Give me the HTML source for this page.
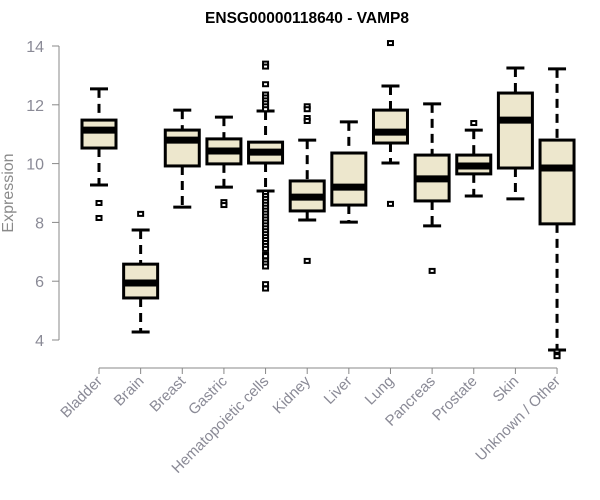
<!DOCTYPE html>
<html><head><meta charset="utf-8">
<style>
html,body{margin:0;padding:0;background:#fff;}
svg{display:block;font-family:"Liberation Sans",sans-serif;}
</style></head>
<body>
<svg id="chart" width="600" height="500">
<text x="307" y="23" text-anchor="middle" font-weight="bold" font-size="15.5">ENSG00000118640 - VAMP8</text>
<text transform="translate(13,193) rotate(-90)" text-anchor="middle" font-size="16" fill="#8a8a8a">Expression</text>
<g id="yaxis"></g>
<g id="xaxis"></g>
<g id="boxes"></g>
</svg>
<script>
const categories=["Bladder","Brain","Breast","Gastric","Hematopoietic cells","Kidney","Liver","Lung","Pancreas","Prostate","Skin","Unknown / Other"];
const whiskerLow=[9.27,4.27,8.52,9.2,9.07,8.08,8.01,10.02,7.88,8.9,8.8,3.66];
const q1=[10.53,5.43,9.92,9.99,10.02,8.39,8.59,10.7,8.73,9.65,9.85,7.95];
const medians=[11.14,5.94,10.8,10.43,10.39,8.86,9.2,11.07,9.48,9.92,11.48,9.85];
const q3=[11.48,6.58,11.14,10.84,10.73,9.41,10.36,11.82,10.29,10.29,12.4,10.8];
const whiskerHigh=[12.54,7.74,11.82,11.58,11.79,10.8,11.42,12.64,12.03,11.14,13.25,13.22];
const outliers=[[8.66,8.15],[8.29],[],[8.69,8.59],
 [13.4,13.3,12.7,12.35,12.25,12.15,12.05,11.95,11.85,9.0,8.9,8.8,8.7,8.6,8.5,8.4,8.3,8.2,8.1,8.0,7.9,7.8,7.7,7.6,7.5,7.4,7.3,7.2,7.1,6.9,6.85,6.7,6.6,6.5,5.9,5.75],
 [11.95,11.85,11.55,11.45,6.69],[],[14.1,8.63],[6.35],[11.38],[],[3.6,3.5,3.45]];
const yTicks=[4,6,8,10,12,14];
const NS="http://www.w3.org/2000/svg";
function y(v){return 340-(v-4)*29.4;}
function x(i){return 99+i*41.64;}
function mk(tag,attrs,parent){const e=document.createElementNS(NS,tag);for(const k in attrs)e.setAttribute(k,attrs[k]);parent.appendChild(e);return e;}
const ya=document.getElementById('yaxis'),xa=document.getElementById('xaxis'),bx=document.getElementById('boxes');
mk('line',{x1:59,x2:59,y1:y(14),y2:y(4),stroke:'#888'},ya);
yTicks.forEach(t=>{
  const l=mk('line',{x1:52,x2:59,y1:y(t),y2:y(t),stroke:'#888'},ya);
  
  
  const tx=mk('text',{x:44,y:y(t)+6,'text-anchor':'end','font-size':16,fill:'#8a8a96'},ya);
  tx.textContent=t;
  
  
});
mk('line',{x1:x(0),x2:x(categories.length-1),y1:368,y2:368,stroke:'#888'},xa);
categories.forEach((c,i)=>{
  const cx=x(i);
  const tk=mk('line',{x1:cx,x2:cx,y1:368,y2:374,stroke:'#888'},xa);
  
  
  const t=mk('text',{x:cx+4,y:382,'text-anchor':'end','font-size':15,fill:'#8a8a96',transform:`rotate(-45 ${cx+4} 382)`},xa);
  t.textContent=c;
  
  
  const g=mk('g',{},bx);
  
  
  const w=17,cap=9;
  mk('line',{x1:cx,x2:cx,y1:y(whiskerHigh[i]),y2:y(q3[i]),stroke:'#000','stroke-width':3,'stroke-dasharray':'9,6'},g);
  mk('line',{x1:cx,x2:cx,y1:y(q1[i]),y2:y(whiskerLow[i]),stroke:'#000','stroke-width':3,'stroke-dasharray':'9,6'},g);
  mk('line',{x1:cx-cap,x2:cx+cap,y1:y(whiskerHigh[i]),y2:y(whiskerHigh[i]),stroke:'#000','stroke-width':3},g);
  mk('line',{x1:cx-cap,x2:cx+cap,y1:y(whiskerLow[i]),y2:y(whiskerLow[i]),stroke:'#000','stroke-width':3},g);
  mk('rect',{x:cx-w,y:y(q3[i]),width:2*w,height:y(q1[i])-y(q3[i]),fill:'#ede7cd',stroke:'#000','stroke-width':3},g);
  mk('line',{x1:cx-w,x2:cx+w,y1:y(medians[i]),y2:y(medians[i]),stroke:'#000','stroke-width':7},g);
  outliers[i].forEach(v=>{
    const o=mk('rect',{x:cx-2.5,y:y(v)-2,width:5,height:4,fill:'#fff',stroke:'#000','stroke-width':2},g);
    
    
  });
});
</script>
</body></html>
